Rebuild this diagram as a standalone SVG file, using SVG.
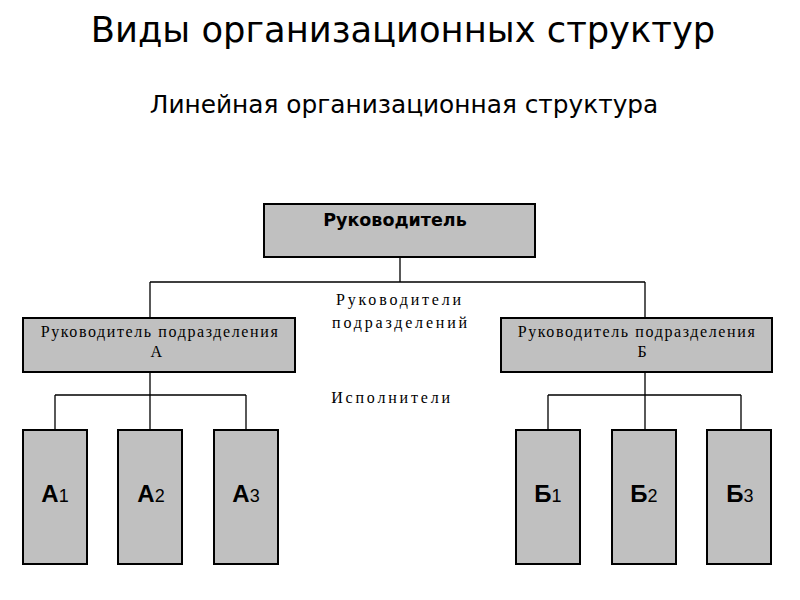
<svg xmlns="http://www.w3.org/2000/svg" width="800" height="600" viewBox="0 0 800 600">
<style>
.box{fill:#c0c0c0;stroke:#000;stroke-width:2}
.ln{fill:none;stroke:#000;stroke-width:1.3}
.serif{font-family:"Liberation Serif","DejaVu Serif",serif;font-size:16px;fill:#000;text-anchor:middle;letter-spacing:1.6px}
.lbl{letter-spacing:2.8px}
.big{font-family:"Liberation Sans",Arial,sans-serif;font-weight:bold;font-size:24px;fill:#000;text-anchor:middle}
.sub{font-weight:normal;font-size:18px}
</style>
<rect width="800" height="600" fill="#fff"/>
<text x="403" y="42" font-family="DejaVu Sans,sans-serif" font-size="35.3" text-anchor="middle">Виды организационных структур</text>
<text x="404" y="113" font-family="DejaVu Sans,sans-serif" font-size="24.8" text-anchor="middle">Линейная организационная структура</text>
<g id="connectors">
<path class="ln" d="M400 257V282M150 282H645M150 282V318M645 282V318"/>
<path class="ln" d="M150 372V395M55 395H246M55 395V430M150 395V430M246 395V430"/>
<path class="ln" d="M645 372V395M548 395H741M548 395V430M645 395V430M741 395V430"/>
</g>
<g id="top"><rect class="box" x="264" y="204" width="271" height="53"/>
<text x="395" y="226" font-family="DejaVu Sans,sans-serif" font-weight="bold" font-size="17.5" text-anchor="middle">Руководитель</text></g>
<g id="labels">
<text class="serif lbl" x="400" y="305">Руководители</text>
<text class="serif lbl" x="401" y="328">подразделений</text>
<text class="serif lbl" x="392" y="403">Исполнители</text>
</g>
<g id="headA"><rect class="box" x="23" y="318" width="272" height="54"/>
<text class="serif" x="160" y="337">Руководитель подразделения</text>
<text class="serif" x="157" y="357">А</text></g>
<g id="headB"><rect class="box" x="501" y="318" width="271" height="54"/>
<text class="serif" x="637" y="337">Руководитель подразделения</text>
<text class="serif" x="643" y="357">Б</text></g>
<g id="A1"><rect class="box" x="23" y="430" width="64" height="134"/><text class="big" x="55" y="502">А<tspan class="sub">1</tspan></text></g>
<g id="A2"><rect class="box" x="118" y="430" width="64" height="134"/><text class="big" x="151" y="502">А<tspan class="sub">2</tspan></text></g>
<g id="A3"><rect class="box" x="214" y="430" width="64" height="134"/><text class="big" x="246" y="502">А<tspan class="sub">3</tspan></text></g>
<g id="B1"><rect class="box" x="516" y="430" width="64" height="134"/><text class="big" x="548" y="502">Б<tspan class="sub">1</tspan></text></g>
<g id="B2"><rect class="box" x="612" y="430" width="64" height="134"/><text class="big" x="644" y="502">Б<tspan class="sub">2</tspan></text></g>
<g id="B3"><rect class="box" x="707" y="430" width="64" height="134"/><text class="big" x="740" y="502">Б<tspan class="sub">3</tspan></text></g>
</svg>
